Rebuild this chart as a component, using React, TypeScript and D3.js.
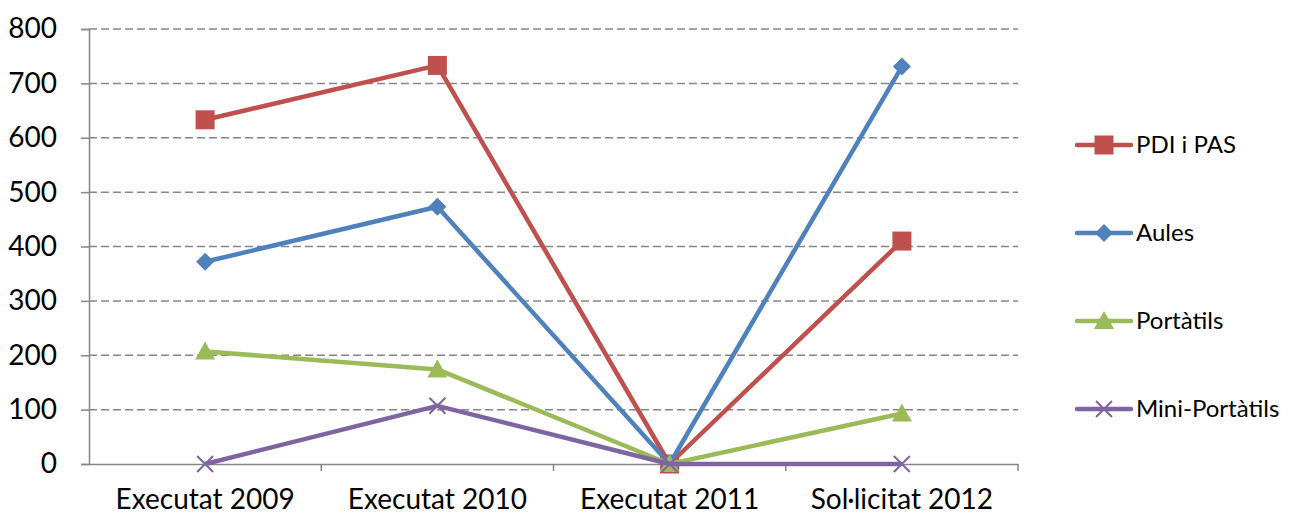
import React, { useEffect, useRef } from 'react'
import * as d3 from 'd3'

const categories = ['Executat 2009', 'Executat 2010', 'Executat 2011', 'Sol·licitat 2012']
const pdiPas = [633, 733, 0, 410]
const aules = [372, 473, 0, 731]
const portatils = [207, 174, 0, 93]
const miniPortatils = [0, 107, 0, 0]
const yTicks = [0, 100, 200, 300, 400, 500, 600, 700, 800]

const series = [
	{ name: 'PDI i PAS', values: pdiPas, color: '#C0504D', marker: 'square' },
	{ name: 'Aules', values: aules, color: '#4F81BD', marker: 'diamond' },
	{ name: 'Portàtils', values: portatils, color: '#9BBB59', marker: 'triangle' },
	{ name: 'Mini-Portàtils', values: miniPortatils, color: '#8064A2', marker: 'cross' },
]

const drawMarker = (g, type, x, y, color) => {
	if (type === 'square') {
		g.append('rect').attr('x', x - 9.5).attr('y', y - 9.5).attr('width', 19).attr('height', 19).attr('fill', color)
	} else if (type === 'diamond') {
		g.append('path').attr('d', `M${x},${y - 9}L${x + 9},${y}L${x},${y + 9}L${x - 9},${y}Z`).attr('fill', color)
	} else if (type === 'triangle') {
		g.append('path').attr('d', `M${x},${y - 10}L${x + 10},${y + 8}L${x - 10},${y + 8}Z`).attr('fill', color)
	} else {
		g.append('path')
			.attr('d', `M${x - 8},${y - 8}L${x + 8},${y + 8}M${x - 8},${y + 8}L${x + 8},${y - 8}`)
			.attr('stroke', color)
			.attr('stroke-width', 2)
	}
}

const LineChart = () => {
	const chartRef = useRef(null)

	useEffect(() => {
		const svgEl = d3.select(chartRef.current)
		svgEl.selectAll('*').remove()

		const left = 89
		const right = 1018
		const top = 29
		const bottom = 464
		const font = 'Lato, "Open Sans", sans-serif'

		const x = d3.scaleBand().domain(categories).range([left, right])
		const y = d3.scaleLinear().domain([0, 800]).range([bottom, top])
		const cx = (i) => x(categories[i]) + x.bandwidth() / 2

		const svg = svgEl.append('g').style('font-family', font)

		// gridlines
		svg
			.selectAll('.grid')
			.data(yTicks.filter((d) => d > 0))
			.enter()
			.append('line')
			.attr('x1', left)
			.attr('x2', right)
			.attr('y1', (d) => y(d))
			.attr('y2', (d) => y(d))
			.attr('stroke', '#868686')
			.attr('stroke-width', 1.5)
			.attr('stroke-dasharray', '8,4')

		// y axis
		const yAxis = svg
			.append('g')
			.attr('transform', `translate(${left},0)`)
			.call(d3.axisLeft(y).tickValues(yTicks).tickSize(8).tickPadding(24))
		yAxis.select('.domain').attr('stroke', '#868686').attr('stroke-width', 1.5)
		yAxis.selectAll('line').attr('stroke', '#868686').attr('stroke-width', 1.5)
		yAxis.selectAll('text').attr('font-size', 28).attr('fill', '#000').style('font-family', font)

		// x axis
		const xAxis = svg
			.append('g')
			.attr('transform', `translate(0,${bottom})`)
			.call(d3.axisBottom(x).tickSize(0).tickPadding(25))
		xAxis.select('.domain').attr('stroke', '#868686').attr('stroke-width', 1.5)
		xAxis.selectAll('text').attr('font-size', 28).attr('fill', '#000').style('font-family', font)
		xAxis
			.selectAll('.sep')
			.data(categories)
			.enter()
			.append('line')
			.attr('x1', (d) => x(d) + x.bandwidth())
			.attr('x2', (d) => x(d) + x.bandwidth())
			.attr('y1', 0)
			.attr('y2', 7)
			.attr('stroke', '#868686')
			.attr('stroke-width', 1.5)

		const line = d3
			.line()
			.x((d, i) => cx(i))
			.y((d) => y(d))

		series.forEach((s) => {
			svg
				.append('path')
				.datum(s.values)
				.attr('d', line)
				.attr('fill', 'none')
				.attr('stroke', s.color)
				.attr('stroke-width', 4.5)
				.attr('stroke-linejoin', 'round')
			s.values.forEach((v, i) => drawMarker(svg, s.marker, cx(i), y(v), s.color))
		})

		// legend
		const legend = svg.append('g').attr('transform', 'translate(1077,145)')
		series.forEach((s, i) => {
			const row = legend.append('g').attr('transform', `translate(0,${i * 88})`)
			row
				.append('line')
				.attr('x1', 0)
				.attr('x2', 54)
				.attr('stroke', s.color)
				.attr('stroke-width', 4.5)
				.attr('stroke-linecap', 'round')
			drawMarker(row, s.marker, 27, 0, s.color)
			row
				.append('text')
				.attr('x', 59)
				.attr('y', 0)
				.attr('dy', '0.35em')
				.attr('font-size', 24)
				.text(s.name)
		})
	}, [])

	return <svg ref={chartRef} width={1293} height={518} style={{ display: 'block' }} />
}

export default function App() {
	return (
		<div style={{ margin: -8 }}>
			<LineChart />
		</div>
	)
}
